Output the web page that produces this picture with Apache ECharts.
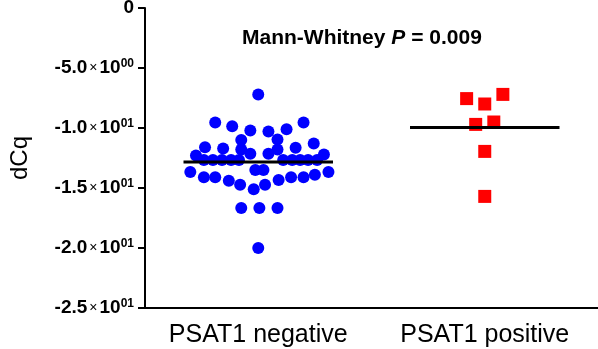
<!DOCTYPE html>
<html>
<head>
<meta charset="utf-8">
<script src="https://cdn.jsdelivr.net/npm/echarts@6/dist/echarts.min.js"></script>
<style>
  html, body { margin: 0; padding: 0; background: #fff; }
  #chart { width: 598px; height: 349px; }
</style>
</head>
<body>
<div id="chart"></div>
<script>
const categories = ['PSAT1 negative', 'PSAT1 positive']

// beeswarm offsets (category units) and dCq values
const negOffsets = [
  0,
  -0.19, -0.115, -0.035, 0.045, 0.125, 0.2,
  -0.075, 0.085,
  -0.235, -0.155, -0.075, 0.085, 0.165, 0.245,
  -0.275, -0.035, 0.045, 0.29,
  -0.24, -0.2, -0.16, -0.12, -0.085, 0.11, 0.15, 0.185, 0.22, 0.26,
  -0.013, 0.023,
  -0.3, -0.24, -0.19, -0.13, -0.08, -0.02, 0.03, 0.09, 0.145, 0.2, 0.25, 0.31,
  -0.075, 0.005, 0.085,
  0
]
const negValues = [
  -7.2,
  -9.55, -9.85, -10.2, -10.3, -10.1, -9.55,
  -11.0, -10.95,
  -11.6, -11.7, -11.8, -11.8, -11.65, -11.3,
  -12.3, -12.15, -12.15, -12.2,
  -12.67, -12.67, -12.67, -12.67, -12.67, -12.67, -12.67, -12.67, -12.67, -12.67,
  -13.5, -13.5,
  -13.67, -14.11, -14.11, -14.39, -14.72, -15.11, -14.72, -14.33, -14.11, -14.11, -13.89, -13.67,
  -16.67, -16.67, -16.67,
  -20.0
]
const posOffsets = [-0.08, 0, 0.08, -0.04, 0.04, 0, 0]
const posValues = [-7.55, -8.0, -7.2, -9.7, -9.5, -11.95, -15.7]

const medians = [-12.83, -9.95]

const yTicks = [0, -5, -10, -15, -20, -25]
const tickMantissa = ['0', '-5.0', '-1.0', '-1.5', '-2.0', '-2.5']
const tickExp = ['', '00', '01', '01', '01', '01']

const font = '"Liberation Sans", Arial, sans-serif'
const chart = echarts.init(document.getElementById('chart'))

const pairs = (xs, ys) => xs.map((x, i) => [x, ys[i]])
const medianLine = (i) => [[i - 0.33, medians[i]], [i + 0.33, medians[i]]]

chart.setOption({
  backgroundColor: '#fff',
  animation: false,
  grid: { left: 145, right: 0, top: 8, bottom: 41, outerBoundsMode: 'none' },
  graphic: [{
    type: 'text',
    left: 242,
    top: 28,
    style: {
      text: '{b|Mann-Whitney }{i|P}{b| = 0.009}',
      rich: {
        b: { fontFamily: font, fontSize: 21, fontWeight: 'bold', fill: '#000' },
        i: { fontFamily: font, fontSize: 21, fontWeight: 'bold', fontStyle: 'italic', fill: '#000' }
      }
    }
  }],
  xAxis: [
    {
      type: 'category',
      data: categories,
      boundaryGap: true,
      axisLine: { onZero: false, lineStyle: { color: '#000', width: 2 } },
      axisTick: { alignWithLabel: true, length: 6, lineStyle: { color: '#000', width: 2 } },
      axisLabel: { interval: 0, color: '#000', fontFamily: font, fontSize: 25, margin: 15 },
      splitLine: { show: false }
    },
    {
      type: 'value',
      min: -0.5,
      max: 1.5,
      show: false
    }
  ],
  yAxis: {
    type: 'value',
    min: -25,
    max: 0,
    interval: 5,
    name: 'dCq',
    nameLocation: 'middle',
    nameRotate: 90,
    nameGap: 113,
    nameTextStyle: { color: '#000', fontFamily: font, fontSize: 24 },
    axisLine: { show: true, onZero: false, lineStyle: { color: '#000', width: 2 } },
    axisTick: { show: true, length: 7, lineStyle: { color: '#000', width: 2 } },
    splitLine: { show: false },
    axisLabel: {
      margin: 11,
      formatter: (v) => {
        const i = yTicks.indexOf(Math.round(v))
        if (i < 0) return ''
        if (!tickExp[i]) return '{m|' + tickMantissa[i] + '}'
        return '{m|' + tickMantissa[i] + '}{x|×}{m|10}{s|' + tickExp[i] + '}'
      },
      rich: {
        m: { fontFamily: font, fontSize: 19, fontWeight: 'bold', color: '#000' },
        x: { fontFamily: font, fontSize: 14, color: '#000', padding: [0, 2, 0, 2] },
        s: { fontFamily: font, fontSize: 12, fontWeight: 'bold', color: '#000', padding: [0, 0, 9, 0] }
      }
    }
  },
  series: [
    {
      type: 'scatter',
      xAxisIndex: 1,
      data: pairs(negOffsets, negValues),
      symbol: 'circle',
      symbolSize: 12,
      itemStyle: { color: '#0000ff', opacity: 1 }
    },
    {
      type: 'scatter',
      xAxisIndex: 1,
      data: pairs(posOffsets.map(o => o + 1), posValues),
      symbol: 'rect',
      symbolSize: 13,
      itemStyle: { color: '#ff0000', opacity: 1 }
    },
    {
      type: 'line',
      xAxisIndex: 1,
      data: medianLine(0),
      symbol: 'none',
      lineStyle: { color: '#000', width: 3 },
      z: 5
    },
    {
      type: 'line',
      xAxisIndex: 1,
      data: medianLine(1),
      symbol: 'none',
      lineStyle: { color: '#000', width: 3 },
      z: 5
    }
  ]
})
</script>
</body>
</html>
